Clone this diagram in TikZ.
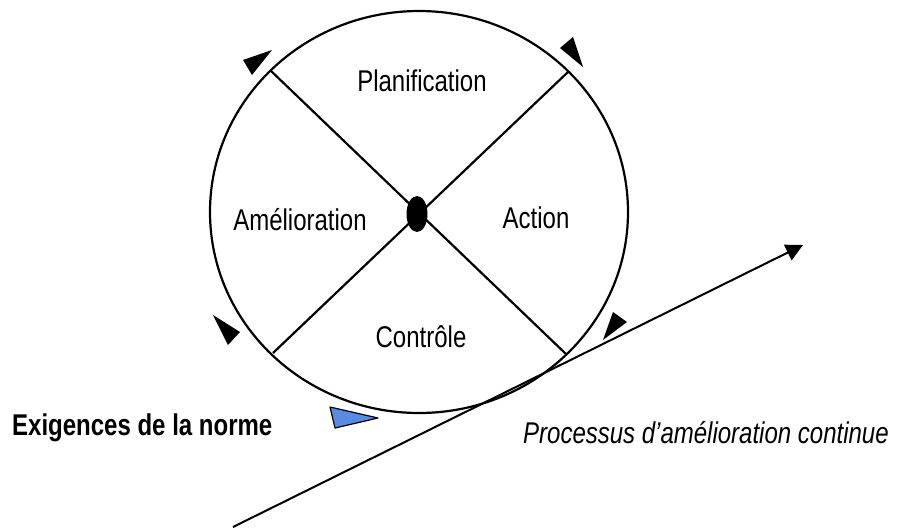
\documentclass[tikz,border=0pt]{standalone}
\usepackage{fontspec}
\setmainfont{Liberation Sans}[FakeStretch=0.8]
\usetikzlibrary{arrows.meta,shapes.geometric}
\definecolor{tblue}{RGB}{88,140,226}
\begin{document}
\begin{tikzpicture}[x=1pt,y=-1pt,
  lbl/.style={font=\fontsize{30}{36}\selectfont, anchor=base, inner sep=0pt},
  ln/.style={line width=2.2pt, black},
  tri/.style={fill=black, draw=none}]
\useasboundingbox (0,0) rectangle (899,531);
% circle
\node[draw, line width=2.2pt, ellipse, minimum width=418pt, minimum height=402pt, inner sep=0pt] (circ) at (419,212) {};
% cross endpoints
\coordinate (ul) at (270,70);
\coordinate (ur) at (568,72);
\coordinate (ll) at (273,353);
\coordinate (lr) at (567,355);
\draw[ln] (ul) -- (lr);
\draw[ln] (ur) -- (ll);
% centre dot
\node[fill=black, ellipse, minimum width=21pt, minimum height=36pt, inner sep=0pt] (dot) at (417,214) {};
% labels
\node[lbl] (plan) at (422,91) {Planification};
\node[lbl] (amel) at (300,230) {Amélioration};
\node[lbl] (act) at (536,228) {Action};
\node[lbl] (ctrl) at (421,347) {Contrôle};
\node[lbl, anchor=base west, font=\fontsize{30}{36}\selectfont\bfseries] (exig) at (12,435) {Exigences de la norme};
\node[lbl, anchor=base west, font=\fontsize{30}{36}\selectfont\itshape] (proc) at (523,443) {Processus d’amélioration continue};
% tangent line with arrow
\coordinate (ls) at (233,527);
\coordinate (le) at (803,245);
\draw[line width=2pt, -{Triangle[length=17pt,width=17pt]}] (ls) -- (le);
% arrowheads on the circle
\fill[tri] (272,50) -- (243,60) -- (252,75) -- cycle;
\fill[tri] (583,67) -- (560,48) -- (573,37) -- cycle;
\fill[tri] (213,315) -- (240,332) -- (228,345) -- cycle;
\fill[tri] (603,340) -- (613,312) -- (627,322) -- cycle;
\filldraw[fill=tblue, draw=black, line width=1.2pt, line join=round] (378,418) -- (330,407) -- (335,428) -- cycle;
\end{tikzpicture}
\end{document}
